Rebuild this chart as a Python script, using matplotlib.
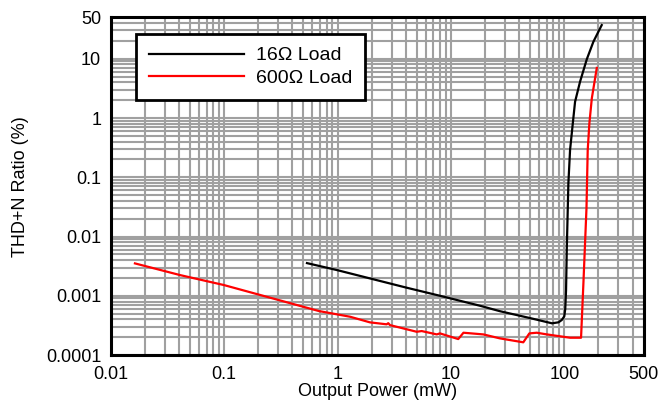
import matplotlib
matplotlib.use("Agg")
import matplotlib.pyplot as plt
from matplotlib.ticker import FixedLocator, FixedFormatter, LogLocator, NullFormatter

plt.rcParams['font.family'] = ['Liberation Sans', 'DejaVu Sans']

# 16 ohm load
p16 = [0.537, 1.0, 4.0, 8.0, 18.0, 27.0, 50.0, 78.0, 89.0, 95.0, 100.0, 102.0,
       103.7, 105.2, 108.7, 112.5, 118.9, 124.5, 137.8, 158.0, 180.7, 214.0]
t16 = [0.00356, 0.0027, 0.00138, 0.001, 0.00068, 0.00055, 0.00042, 0.000343,
       0.000357, 0.00039, 0.00045, 0.0006, 0.00125, 0.0059, 0.079, 0.29, 0.81,
       1.88, 4.1, 9.8, 19.4, 37.0]

# 600 ohm load
p600 = [0.0163, 0.0406, 0.099, 0.686, 1.29, 1.93, 2.71, 2.8, 2.9, 4.99, 5.52,
        7.5, 8.0, 11.6, 12.9, 19.3, 27.1, 43.5, 49.2, 57.2, 70.1, 112.5, 140.6,
        147.5, 157.0, 161.0, 166.5, 175.0, 193.6]
t600 = [0.00352, 0.00224, 0.00152, 0.000552, 0.000443, 0.000356, 0.00033,
        0.000345, 0.00032, 0.000247, 0.000254, 0.000223, 0.000232, 0.000186,
        0.000238, 0.000223, 0.000191, 0.000164, 0.000232, 0.000238, 0.000223,
        0.000196, 0.000196, 0.00162, 0.03, 0.288, 0.81, 2.15, 7.0]

xticks = [0.01, 0.1, 1, 10, 100, 500]
xlabels = ['0.01', '0.1', '1', '10', '100', '500']
yticks = [0.0001, 0.001, 0.01, 0.1, 1, 10, 50]
ylabels = ['0.0001', '0.001', '0.01', '0.1', '1', '10', '50']

fig = plt.figure(figsize=(6.6, 4.03), dpi=100)
ax = fig.add_axes([0.168, 0.119, 0.807, 0.838])
ax.set_xscale('log')
ax.set_yscale('log')
ax.set_xlim(0.01, 500)
ax.set_ylim(0.0001, 50)

ax.xaxis.set_major_locator(FixedLocator(xticks))
ax.xaxis.set_major_formatter(FixedFormatter(xlabels))
ax.yaxis.set_major_locator(FixedLocator(yticks))
ax.yaxis.set_major_formatter(FixedFormatter(ylabels))
ax.xaxis.set_minor_locator(LogLocator(base=10, subs=range(2, 10), numticks=20))
ax.yaxis.set_minor_locator(LogLocator(base=10, subs=range(2, 10), numticks=20))
ax.xaxis.set_minor_formatter(NullFormatter())
ax.yaxis.set_minor_formatter(NullFormatter())

ax.grid(True, which='both', color='#a0a0a0', linewidth=1.5)
ax.set_axisbelow(True)
ax.tick_params(which='both', length=0, labelsize=13)
ax.tick_params(axis='x', pad=8)
ax.tick_params(axis='y', pad=7)

for s in ax.spines.values():
    s.set_linewidth(2.2)
    s.set_color('black')

ax.plot(p16, t16, color='black', linewidth=1.6, label='16Ω Load')
ax.plot(p600, t600, color='#ff0000', linewidth=1.6, label='600Ω Load')

ax.set_xlabel('Output Power (mW)', fontsize=13, labelpad=0)
ax.set_ylabel('THD+N Ratio (%)', fontsize=13, labelpad=12)

leg = ax.legend(loc='upper left', bbox_to_anchor=(0.048, 0.95), fontsize=14,
                handlelength=4.9, borderpad=0.65, labelspacing=0.25,
                handletextpad=0.62, fancybox=False, framealpha=1,
                edgecolor='black', borderaxespad=0)
leg.get_frame().set_linewidth(2.0)

fig.savefig('out.png', dpi=100)
